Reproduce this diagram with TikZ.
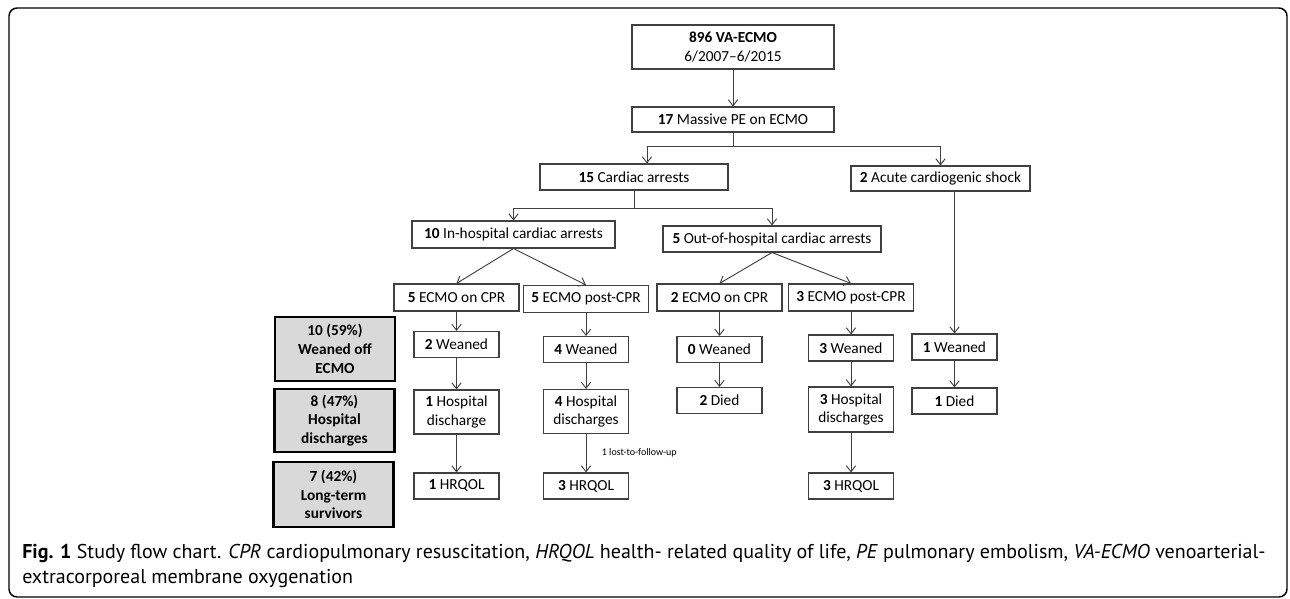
\documentclass[tikz,border=0pt]{standalone}
\usepackage{fontspec}
\setmainfont{Carlito}
\newfontfamily\capfont{PT Sans}
\usepackage{tikz}
\usetikzlibrary{arrows.meta,positioning,calc}
\definecolor{boxline}{RGB}{64,64,64}
\definecolor{sumfill}{RGB}{217,217,217}
\newlength{\pix}
\setlength{\pix}{0.75pt}
\tikzstyle{box}=[draw=boxline,line width=0.8pt,rectangle,inner sep=0pt,align=center,font=\fontsize{11.5}{14}\selectfont]
\tikzstyle{stage}=[box,minimum width=85\pix,minimum height=26\pix]
\tikzstyle{stagetwo}=[stage,minimum height=44\pix]
\tikzstyle{ecmo}=[box,minimum width=125\pix,minimum height=27\pix]
\tikzstyle{summary}=[box,draw=black,line width=1.6pt,fill=sumfill,minimum width=120\pix,minimum height=64\pix,font=\bfseries\fontsize{11.5}{14}\selectfont]
\tikzstyle{link}=[draw=boxline,line width=0.7pt]
\tikzstyle{arrow}=[link,-{Straight Barb[length=4.5pt,width=7pt]}]
\tikzstyle{caption}=[anchor=base west,inner sep=0pt,font=\capfont\fontsize{15}{18}\selectfont]

\begin{document}
\begin{tikzpicture}[x=0.75pt,y=-0.75pt]
  \useasboundingbox (0,0) rectangle (1290,599);
  \draw[line width=1.1pt,rounded corners=6pt] (9,8) rectangle (1287,597);

  \node[box,minimum width=202\pix,minimum height=44\pix] at (733,47) (total) {\textbf{896 VA-ECMO}\\6/2007--6/2015};
  \node[box,minimum width=202\pix,minimum height=25\pix] at (733,119.5) (pe) {\textbf{17} Massive PE on ECMO};
  \node[box,minimum width=188\pix,minimum height=26\pix] at (634,177) (arrest) {\textbf{15} Cardiac arrests};
  \node[box,minimum width=179\pix,minimum height=25\pix] at (940.5,178.5) (shock) {\textbf{2} Acute cardiogenic shock};
  \node[box,minimum width=203\pix,minimum height=27\pix] at (513.5,234.5) (ihca) {\textbf{10} In-hospital cardiac arrests};
  \node[box,minimum width=218\pix,minimum height=26\pix] at (772,239) (ohca) {\textbf{5} Out-of-hospital cardiac arrests};

  \node[ecmo] at (456.5,297.5) (ihon) {\textbf{5} ECMO on CPR};
  \node[ecmo] at (586,299) (ihpost) {\textbf{5} ECMO post-CPR};
  \node[ecmo] at (719.5,297.5) (ohon) {\textbf{2} ECMO on CPR};
  \node[ecmo] at (851,297.5) (ohpost) {\textbf{3} ECMO post-CPR};

  \node[stage] at (ihon|-0,344.5) (wean1) {\textbf{2} Weaned};
  \node[stage] at (ihpost|-0,349.5) (wean2) {\textbf{4} Weaned};
  \node[stage] at (ohon|-0,349.5) (wean3) {\textbf{0} Weaned};
  \node[stage] at (ohpost|-0,348) (wean4) {\textbf{3} Weaned};
  \node[stage] at (954.5,347) (wean5) {\textbf{1} Weaned};

  \node[stagetwo] at (wean1|-0,412) (disc1) {\textbf{1} Hospital\\discharge};
  \node[stagetwo] at (wean2|-0,411.5) (disc2) {\textbf{4} Hospital\\discharges};
  \node[stage] at (wean3|-0,400.5) (died3) {\textbf{2} Died};
  \node[stagetwo,minimum height=45\pix] at (wean4|-0,409.5) (disc4) {\textbf{3} Hospital\\discharges};
  \node[stage] at (wean5|-0,401) (died5) {\textbf{1} Died};

  \node[stage] at (disc1|-0,486) (qol1) {\textbf{1} HRQOL};
  \node[stage] at (disc2|-0,486) (qol2) {\textbf{3} HRQOL};
  \node[stage] at (disc4|-0,486) (qol4) {\textbf{3} HRQOL};

  \node[summary] at (335,349) (sumwean) {10 (59\%)\\Weaned off\\ECMO};
  \node[summary,minimum height=63\pix] at (334.5,420.5) (sumdisc) {8 (47\%)\\Hospital\\discharges};
  \node[summary,minimum height=65\pix] at (333.5,494.5) (sumlong) {7 (42\%)\\Long-term\\survivors};

  \draw[arrow] (total) -- (pe);
  \coordinate (split1) at (pe.south|-0,146);
  \draw[link] (pe) -- (split1);
  \draw[arrow] (split1) -| ([xshift=13\pix]arrest.north);
  \draw[arrow] (split1) -| (shock);

  \coordinate (split2) at (arrest.south|-0,208);
  \draw[link] (arrest) -- (split2);
  \draw[arrow] (split2) -| (ihca);
  \draw[arrow] (split2) -| (ohca);

  \draw[arrow] (ihca.south) -- (ihon.north);
  \draw[arrow] (ihca.south) -- (ihpost.north);
  \draw[arrow] (ohca.south) -- (ohon.north);
  \draw[arrow] (ohca.south) -- (ohpost.north);

  \draw[arrow] (ihon) -- (wean1);
  \draw[arrow] (wean1) -- (disc1);
  \draw[arrow] (disc1) -- (qol1);

  \draw[arrow] (ihpost) -- (wean2);
  \draw[arrow] (wean2) -- (disc2);
  \draw[arrow] (disc2) -- node[right=11\pix,font=\fontsize{7.5}{9}\selectfont] (lost) {1 lost-to-follow-up} (qol2);

  \draw[arrow] (ohon) -- (wean3);
  \draw[arrow] (wean3) -- (died3);

  \draw[arrow] (ohpost) -- (wean4);
  \draw[arrow] (wean4) -- (disc4);
  \draw[arrow] (disc4) -- (qol4);

  \draw[arrow] (wean5|-shock.south) -- (wean5);
  \draw[arrow] (wean5) -- (died5);

  \node[caption] at (22,558) (cap1) {\textbf{Fig. 1} Study flow chart. \textit{CPR} cardiopulmonary resuscitation, \textit{HRQOL} health- related quality of life, \textit{PE} pulmonary embolism, \textit{VA-ECMO} venoarterial-};
  \node[caption] at (22,583) (cap2) {extracorporeal membrane oxygenation};
\end{tikzpicture}
\end{document}
